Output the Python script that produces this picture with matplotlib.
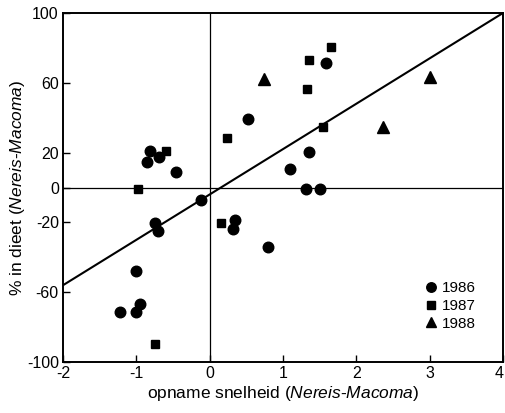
import matplotlib.pyplot as plt
import matplotlib.transforms as mtransforms

plt.rcParams['font.family'] = ['Liberation Sans', 'DejaVu Sans']
plt.rcParams['axes.unicode_minus'] = False
plt.rcParams['mathtext.fontset'] = 'custom'
plt.rcParams['mathtext.it'] = 'Liberation Sans:italic'
plt.rcParams['mathtext.rm'] = 'Liberation Sans'

# 1986 (circles)
x86 = [-1.22, -1.0, -0.95, -1.0, -0.74, -0.71, -0.12, 0.35, 0.32, 0.79, 1.31, 1.51,
       -0.81, -0.86, -0.69, -0.46, 0.52, 1.1, 1.36, 1.59]
y86 = [-71.3, -71.5, -66.8, -47.8, -20.5, -24.9, -7.2, -18.6, -24.0, -34.3, -1.0, -1.0,
       20.9, 14.4, 17.5, 8.9, 39.3, 10.4, 20.5, 71.3]
# 1987 (squares)
x87 = [-0.98, -0.59, 0.23, 1.65, 1.35, 1.33, 1.54, 0.16, -0.75]
y87 = [-1.0, 20.9, 28.5, 80.3, 73.2, 56.3, 34.5, -20.2, -89.7]
# 1988 (triangles)
x88 = [0.74, 3.0, 2.36]
y88 = [62.2, 63.2, 34.8]

# regression line endpoints
fit_x = [-2, 4]
fit_y = [-56, 100]

xticks = [-2, -1, 0, 1, 2, 3, 4]
yticks = [-100, -60, -20, 0, 20, 60, 100]

fig = plt.figure(figsize=(5.06, 4.13), dpi=100)
ax = fig.add_axes([0.1245, 0.1235, 0.8695, 0.845])

ax.axhline(0, color='black', lw=0.9, zorder=1)
ax.axvline(0, color='black', lw=0.9, zorder=1)
ax.plot(fit_x, fit_y, color='black', lw=1.5, zorder=2)

ax.plot(x86, y86, 'o', color='black', ms=7.6, ls='none', label='1986', zorder=3)
ax.plot(x87, y87, 's', color='black', ms=6.4, ls='none', label='1987', zorder=3)
ax.plot(x88, y88, '^', color='black', ms=8, ls='none', label='1988', zorder=3)

ax.set_xlim(-2, 4)
ax.set_ylim(-100, 100)
ax.set_xticks(xticks)
ax.set_yticks(yticks)
ax.set_xticklabels([str(t) for t in xticks])
ax.set_yticklabels([str(t) for t in yticks])
ax.tick_params(direction='in', length=5, width=1, labelsize=11.5, pad=3)
for s in ax.spines.values():
    s.set_linewidth(1.4)

# keep the last x tick label inside the figure
last = ax.get_xticklabels()[-1]
last.set_transform(last.get_transform() +
                   mtransforms.ScaledTranslation(-4 / 100, 0, fig.dpi_scale_trans))

ax.set_xlabel(r"opname snelheid ($\it{Nereis}$-$\it{Macoma}$)", fontsize=12.5, labelpad=2)
ax.set_ylabel(r"% in dieet ($\it{Nereis}$-$\it{Macoma}$)", fontsize=12.5, labelpad=0)

ax.legend(loc='lower right', bbox_to_anchor=(0.97, 0.05), frameon=False,
          fontsize=11, handletextpad=0.1, labelspacing=0.25, handlelength=1.2,
          markerscale=0.9)

fig.savefig('out.png', dpi=100)
